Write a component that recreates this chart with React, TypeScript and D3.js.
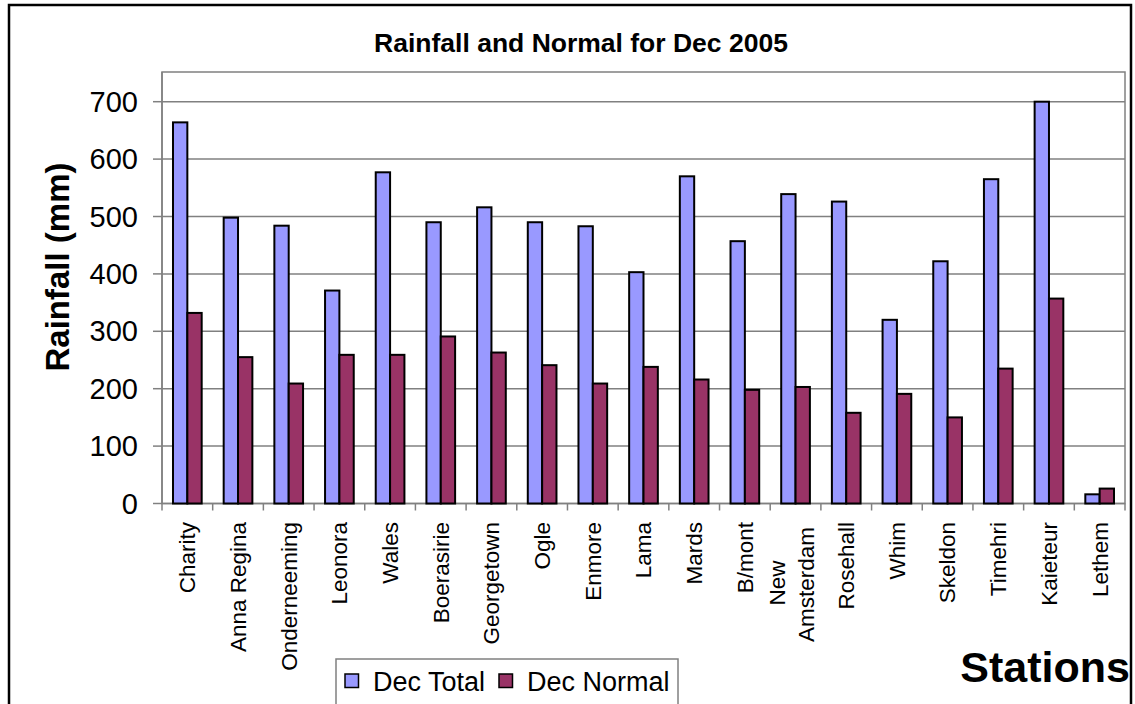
import React from "react";
import * as d3 from "d3";

const stations: string[] = [
  "Charity", "Anna Regina", "Onderneeming", "Leonora", "Wales", "Boerasirie",
  "Georgetown", "Ogle", "Enmore", "Lama", "Mards", "B/mont", "New Amsterdam",
  "Rosehall", "Whim", "Skeldon", "Timehri", "Kaieteur", "Lethem",
];
const decTotal: number[] = [664, 498, 484, 371, 577, 490, 516, 490, 483, 403, 570, 457, 539, 526, 320, 422, 565, 700, 16];
const decNormal: number[] = [332, 255, 209, 259, 259, 291, 263, 241, 209, 238, 216, 198, 203, 158, 191, 150, 235, 357, 26];
const yTicks: number[] = [0, 100, 200, 300, 400, 500, 600, 700];
const seriesNames: string[] = ["Dec Total", "Dec Normal"];
const seriesColors: string[] = ["#9999FF", "#993366"];

const FONT = "'Liberation Sans', Arial, Helvetica, sans-serif";

export default function App() {
  const W = 1135, H = 704;
  const left = 162, right = 1125, frameTop = 72, bottom = 503.5;
  const x = d3.scaleBand<string>().domain(stations).range([left, right]).paddingInner(0).paddingOuter(0);
  const y = d3.scaleLinear().domain([0, 700]).range([bottom, 101.7]);
  const bw = x.bandwidth() * 0.283;

  const labelTop = 522;

  return (
    <svg width={W} height={H} style={{ position: "absolute", left: 0, top: 0 }} fontFamily={FONT}>
      <rect x={0} y={0} width={W} height={H} fill="#fff" />
      <rect x={9} y={5} width={1122} height={710} fill="#fff" stroke="#000" strokeWidth={2.5} />
      <text x={581} y={52} textAnchor="middle" fontSize={26.5} fontWeight="bold">Rainfall and Normal for Dec 2005</text>

      {/* plot frame */}
      <rect x={left} y={frameTop} width={right - left} height={bottom - frameTop} fill="#fff" stroke="#808080" strokeWidth={1.5} />
      {yTicks.map((t) => (
        <g key={t}>
          {t > 0 && <line x1={left} x2={right} y1={y(t)} y2={y(t)} stroke="#808080" strokeWidth={1.5} />}
          <line x1={153} x2={left} y1={y(t)} y2={y(t)} stroke="#808080" strokeWidth={1.5} />
          <text x={138} y={y(t)} dy="0.35em" textAnchor="end" fontSize={29}>{t}</text>
        </g>
      ))}
      <line x1={left} x2={left} y1={frameTop} y2={bottom} stroke="#808080" strokeWidth={1.5} />
      <line x1={left} x2={right} y1={bottom} y2={bottom} stroke="#808080" strokeWidth={1.5} />
      {stations.map((s, i) => (
        <line key={"t" + i} x1={x(s)!} x2={x(s)!} y1={bottom} y2={bottom + 7} stroke="#808080" strokeWidth={1.5} />
      ))}
      <line x1={right} x2={right} y1={bottom} y2={bottom + 7} stroke="#808080" strokeWidth={1.5} />

      {/* bars */}
      {stations.map((s, i) => {
        const c = x(s)! + x.bandwidth() / 2;
        return (
          <g key={"b" + i}>
            <rect x={c - bw} y={y(decTotal[i])} width={bw} height={bottom - y(decTotal[i])} fill={seriesColors[0]} stroke="#000" strokeWidth={2} />
            <rect x={c} y={y(decNormal[i])} width={bw} height={bottom - y(decNormal[i])} fill={seriesColors[1]} stroke="#000" strokeWidth={2} />
          </g>
        );
      })}

      {/* category labels */}
      {stations.map((s, i) => {
        const c = x(s)! + x.bandwidth() / 2;
        const parts = s.split(" ");
        if (s === "New Amsterdam") {
          return (
            <g key={"l" + i}>
              <text transform={`translate(${c - 18},${labelTop + 61}) rotate(-90)`} dy="0.35em" textAnchor="middle" fontSize={22.5}>{parts[0]}</text>
              <text transform={`translate(${c + 11},${labelTop + 5}) rotate(-90)`} dy="0.35em" textAnchor="end" fontSize={22.5}>{parts[1]}</text>
            </g>
          );
        }
        return (
          <text key={"l" + i} transform={`translate(${c},${labelTop}) rotate(-90)`} dy="0.35em" textAnchor="end" fontSize={22.5}>{s}</text>
        );
      })}

      <text transform={`translate(57,267) rotate(-90)`} dy="0.35em" textAnchor="middle" fontSize={33} fontWeight="bold">Rainfall (mm)</text>
      <text x={1130} y={682} textAnchor="end" fontSize={43} fontWeight="bold">Stations</text>

      {/* legend */}
      <rect x={336} y={659} width={342} height={60} fill="#fff" stroke="#808080" strokeWidth={1.5} />
      {seriesNames.map((n, i) => {
        const lx = i === 0 ? 345 : 499;
        return (
          <g key={"lg" + i}>
            <rect x={lx} y={674} width={13.5} height={13.5} fill={seriesColors[i]} stroke="#000" strokeWidth={1.5} />
            <text x={lx + 28} y={682} dy="0.35em" fontSize={27}>{n}</text>
          </g>
        );
      })}
    </svg>
  );
}
